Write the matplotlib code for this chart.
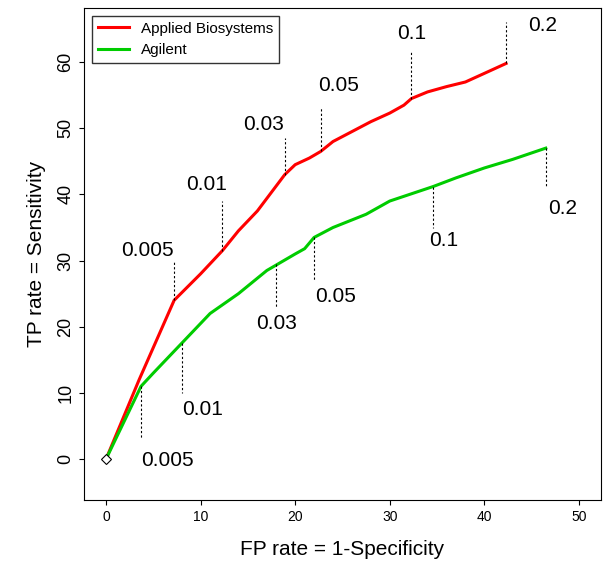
import matplotlib
matplotlib.use('Agg')
import matplotlib.pyplot as plt

plt.rcParams['font.family'] = ['Liberation Sans', 'DejaVu Sans']

# curves
ab_x = [0, 3.5, 7.2, 10, 12.3, 14, 16, 18.9, 20, 21.5, 22.7, 24, 26, 28, 30, 31.5, 32.3, 34, 36, 38, 40, 42.3]
ab_y = [0, 12, 24, 28, 31.5, 34.5, 37.5, 43, 44.5, 45.5, 46.5, 48, 49.5, 51, 52.3, 53.5, 54.5, 55.5, 56.3, 57, 58.3, 59.8]
ag_x = [0, 3.7, 5, 8, 11, 14, 17, 20, 21, 22, 24, 27.5, 30, 34.6, 37, 40, 43, 46.5]
ag_y = [0, 11, 13, 17.5, 22, 25, 28.5, 31, 31.8, 33.5, 35, 37, 39, 41.2, 42.5, 44, 45.3, 47]

# cutoff annotations: x, line y0, line y1, text x, text y, label
ab_ann_x = [7.2, 12.3, 18.9, 22.7, 32.3, 42.3]
ab_ann_y0 = [24, 31.5, 43, 46.5, 54.5, 59.8]
ab_ann_y1 = [30, 39, 48.5, 53, 61.5, 66]
ab_txt_x = [4.4, 10.6, 16.7, 24.6, 32.3, 46.2]
ab_txt_y = [31.5, 41.5, 50.5, 56.5, 64.3, 65.5]
ag_ann_x = [3.7, 8, 18, 22, 34.6, 46.5]
ag_ann_y0 = [11, 17.5, 29.5, 33.5, 41.2, 47]
ag_ann_y1 = [3, 10, 23, 27, 35, 41]
ag_txt_x = [6.5, 10.2, 18, 24.3, 35.7, 48.3]
ag_txt_y = [-0.3, 7.5, 20.5, 24.5, 33, 37.8]
cutoffs = ['0.005', '0.01', '0.03', '0.05', '0.1', '0.2']

fig = plt.figure(figsize=(6.11, 5.65), dpi=100)
ax = fig.add_axes([0.138, 0.115, 0.845, 0.871])
ax.plot(ab_x, ab_y, color='#ff0000', lw=2.2, label='Applied Biosystems')
ax.plot(ag_x, ag_y, color='#00cc00', lw=2.2, label='Agilent')
ax.plot([0], [0], marker='D', ms=5, mfc='white', mec='black', mew=0.8, ls='none')

for xs, y0s, y1s, txs, tys in [(ab_ann_x, ab_ann_y0, ab_ann_y1, ab_txt_x, ab_txt_y),
                               (ag_ann_x, ag_ann_y0, ag_ann_y1, ag_txt_x, ag_txt_y)]:
    for x, y0, y1, tx, ty, lab in zip(xs, y0s, y1s, txs, tys, cutoffs):
        ax.plot([x, x], [y0, y1], color='black', lw=0.8, ls=(0, (2, 2)))
        ax.text(tx, ty, lab, fontsize=15, ha='center', va='center')

ax.set_xlim(-2.3, 52.3)
ax.set_ylim(-6.2, 68.2)
ax.set_xticks([0, 10, 20, 30, 40, 50])
ax.set_yticks([0, 10, 20, 30, 40, 50, 60])
ax.tick_params(labelsize=10)
ax.set_yticklabels([0, 10, 20, 30, 40, 50, 60], rotation=90, va='center', fontsize=13)
ax.set_xlabel('FP rate = 1-Specificity', fontsize=15, labelpad=12)
ax.set_ylabel('TP rate = Sensitivity', fontsize=15, labelpad=8)
ax.legend(loc='upper left', fontsize=11, frameon=True, fancybox=False,
          edgecolor='black', handlelength=2, borderpad=0.4)

fig.savefig('out.png')
